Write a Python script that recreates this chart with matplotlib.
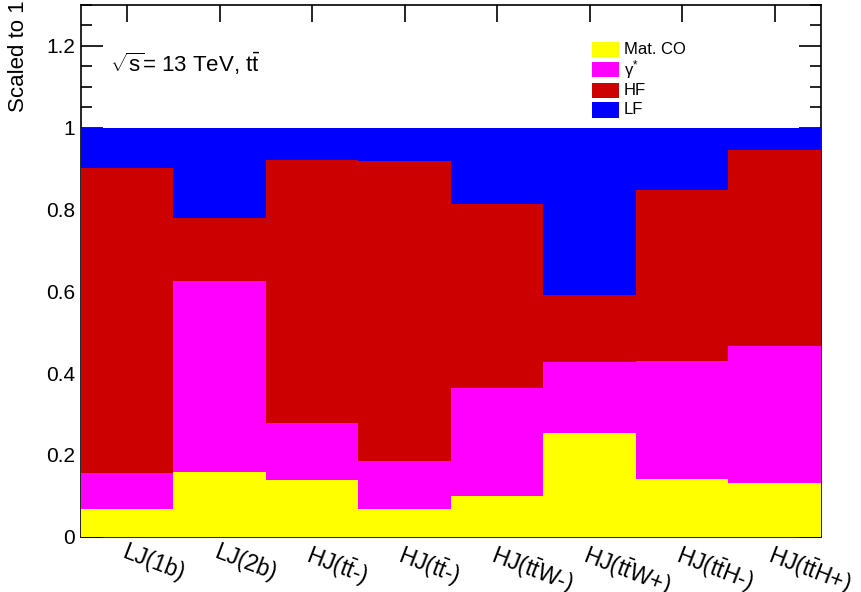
import matplotlib
matplotlib.use("Agg")
import matplotlib.pyplot as plt
from matplotlib.ticker import MultipleLocator, FixedLocator
from matplotlib.patches import Rectangle
import numpy as np

plt.rcParams['font.family'] = ['Liberation Sans', 'DejaVu Sans']
plt.rcParams['mathtext.fontset'] = 'custom'
plt.rcParams['mathtext.rm'] = 'Liberation Sans'
plt.rcParams['mathtext.it'] = 'Liberation Sans:italic'

TT = r"t$\bar{\mathrm{t}}$"

# Categories and fractional composition of each category
categories = ["LJ(1b)", "LJ(2b)", f"HJ({TT}-)", f"HJ({TT}-)",
              f"HJ({TT}W-)", f"HJ({TT}W+)", f"HJ({TT}H-)", f"HJ({TT}H+)"]
mat_co = [0.068, 0.158, 0.139, 0.068, 0.100, 0.254, 0.141, 0.131]
gamma_star = [0.088, 0.467, 0.139, 0.117, 0.264, 0.173, 0.289, 0.335]
hf = [0.745, 0.155, 0.643, 0.733, 0.449, 0.164, 0.418, 0.479]
lf = [0.099, 0.220, 0.079, 0.082, 0.187, 0.409, 0.152, 0.055]

series_labels = ["Mat. CO", "\u03b3$^{*}$", "HF", "LF"]
series_colors = ["#ffff00", "#ff00ff", "#cc0000", "#0000ff"]

W, H = 862, 592
fig = plt.figure(figsize=(W / 100, H / 100), dpi=100)
left_px, right_px, top_px, bottom_px = 81, 821, 5, 536.7
ax = fig.add_axes([left_px / W, 1 - bottom_px / H,
                   (right_px - left_px) / W, (bottom_px - top_px) / H])

x = np.arange(len(categories))
bottom = np.zeros(len(categories))
for vals, col in zip([mat_co, gamma_star, hf, lf], series_colors):
    vals = np.asarray(vals)
    ax.bar(x, vals, width=1.0, bottom=bottom, color=col, linewidth=0,
           antialiased=False, zorder=3)
    bottom += vals

ax.set_xlim(-0.5, len(categories) - 0.5)
ax.set_ylim(0, 1.3)

for sp in ax.spines.values():
    sp.set_linewidth(1.2)

ax.yaxis.set_minor_locator(MultipleLocator(0.05))
ax.set_yticks([0, 0.2, 0.4, 0.6, 0.8, 1.0, 1.2])
ax.set_yticklabels(["0", "0.2", "0.4", "0.6", "0.8", "1", "1.2"])
ax.tick_params(axis='y', which='major', direction='in', length=15.8, width=1.2,
               left=True, right=True, labelsize=15, pad=4.3)
ax.tick_params(axis='y', which='minor', direction='in', length=7.9, width=1.2,
               left=True, right=True)

ax.set_xticks(x)
ax.set_xticklabels(categories, rotation=-21, ha='left', va='top',
                   rotation_mode='anchor', fontsize=16.5)
ax.tick_params(axis='x', which='major', direction='in', length=12, width=1.2,
               top=True, bottom=True, pad=3)
ax.xaxis.set_minor_locator(FixedLocator([]))

fig.text(0.022, 0.999, "Scaled to 1", rotation=90, ha='center', va='top',
         fontsize=16)

fig.text(110 / W, 1 - 72 / H, r"$\sqrt{\mathrm{s}}$= 13 TeV, " + TT,
         ha='left', va='baseline', fontsize=16)

# Legend boxes and labels
box_x0, box_w, box_h = 591.7, 27.6, 15.3
row_tops = [41.7, 61.7, 82.7, 102.3]
for lab, col, ytop in zip(series_labels, series_colors, row_tops):
    fig.patches.append(Rectangle((box_x0 / W, 1 - (ytop + box_h) / H),
                                 box_w / W, box_h / H, facecolor=col,
                                 edgecolor='none', transform=fig.transFigure))
    fig.text(624 / W, 1 - (ytop + box_h / 2) / H, lab, ha='left',
             va='center', fontsize=12)

fig.savefig("out.png", dpi=100)
